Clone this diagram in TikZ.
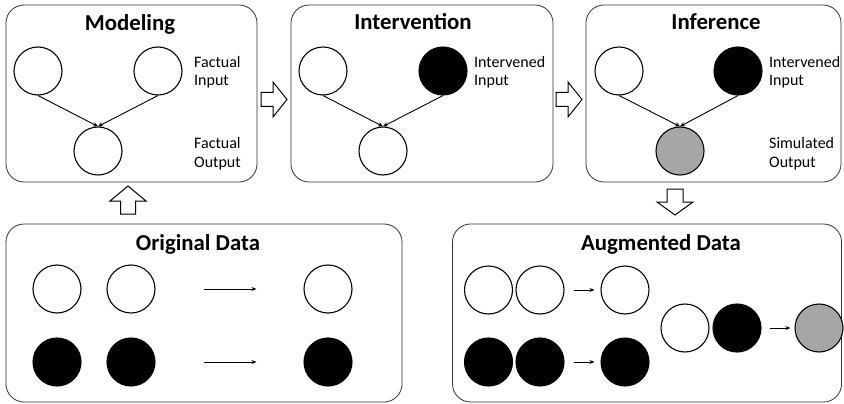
\documentclass[tikz,border=0pt]{standalone}
\usepackage{fontspec}
\setmainfont{Carlito}
\usetikzlibrary{arrows.meta,calc}
\tikzset{
  panel/.style={draw=black!80, line width=0.8pt, rounded corners=18pt, minimum height=177pt, inner sep=0pt},
  dot/.style={circle, draw=black, line width=1.1pt, minimum size=48pt, inner sep=0pt},
  wdot/.style={dot, fill=white},
  bdot/.style={dot, fill=black},
  gdot/.style={dot, fill=black!35},
  title/.style={anchor=base, inner sep=0pt, font=\fontsize{22.8}{26}\selectfont\bfseries},
  lbl/.style={anchor=base west, inner sep=0pt, font=\fontsize{16}{19}\selectfont},
  edge/.style={line width=0.9pt, -{Stealth[length=5pt,width=4.5pt]}},
  flow/.style={line width=0.9pt, -{Stealth[length=5pt,width=4pt]}},
  blockarrow/.style={draw=black, line width=1pt, fill=white, line join=miter},
}
\begin{document}
\begin{tikzpicture}[x=1pt,y=-1pt]
\useasboundingbox (0,0) rectangle (844,404);
% panels
\node[panel, minimum width=251pt] (b1) at (131.5,93.5) {};
\node[panel, minimum width=262pt] (b2) at (422,93.5) {};
\node[panel, minimum width=255pt] (b3) at (713.5,93.5) {};
\node[panel, minimum width=396pt, minimum height=178pt] (b4) at (204,313) {};
\node[panel, minimum width=389pt, minimum height=178pt] (b5) at (647,313) {};
% titles
\node[title] (t1) at (130,31) {Modeling};
\node[title] (t2) at (413,30) {Intervention};
\node[title] (t3) at (716,30) {Inference};
\node[title] (t4) at (198,250) {Original Data};
\node[title] (t5) at (661,250) {Augmented Data};
% Modeling
\node[wdot] (m1) at (38,71) {};
\node[wdot] (m2) at (158,71) {};
\node[wdot] (m3) at (98,151) {};
\draw[edge] (m1.south) -- (m3.north);
\draw[edge] (m2.south) -- (m3.north);
\node[lbl] (l1a) at (194,67) {Factual};
\node[lbl] (l1b) at (194,86) {Input};
\node[lbl] (l1c) at (194,148) {Factual};
\node[lbl] (l1d) at (194,167) {Output};
% Intervention
\node[wdot] (i1) at (323,71) {};
\node[bdot] (i2) at (443,71) {};
\node[wdot] (i3) at (383,151) {};
\draw[edge] (i1.south) -- (i3.north);
\draw[edge] (i2.south) -- (i3.north);
\node[lbl] (l2a) at (474,67) {Intervened};
\node[lbl] (l2b) at (474,86) {Input};
% Inference
\node[wdot] (f1) at (619,71) {};
\node[bdot] (f2) at (738,71) {};
\node[gdot] (f3) at (680,151) {};
\draw[edge] (f1.south) -- (f3.north);
\draw[edge] (f2.south) -- (f3.north);
\node[lbl] (l3a) at (769,67) {Intervened};
\node[lbl] (l3b) at (769,86) {Input};
\node[lbl] (l3c) at (769,148) {Simulated};
\node[lbl] (l3d) at (769,167) {Output};
% Original data
\node[wdot] (o1) at (57,289) {};
\node[wdot] (o2) at (131,289) {};
\node[wdot] (o3) at (328,289) {};
\node[bdot] (o4) at (57,362) {};
\node[bdot] (o5) at (131,362) {};
\node[bdot] (o6) at (328,362) {};
\draw[flow] ($(o2.east)+(48,0)$) -- ($(o3.west)+(-47,0)$);
\draw[flow] ($(o5.east)+(48,0)$) -- ($(o6.west)+(-47,0)$);
% Augmented data
\node[wdot] (a1) at (488.5,290) {};
\node[wdot] (a2) at (540,290) {};
\node[wdot] (a3) at (625,290) {};
\node[bdot] (a4) at (488.5,362) {};
\node[bdot] (a5) at (540,362) {};
\node[bdot] (a6) at (625,362) {};
\node[wdot] (a7) at (685,328) {};
\node[bdot] (a8) at (737,328) {};
\node[gdot] (a9) at (819,328) {};
\draw[flow] ($(a2.east)+(9,0)$) -- ($(a3.west)+(-6,0)$);
\draw[flow] ($(a5.east)+(9,0)$) -- ($(a6.west)+(-6,0)$);
\draw[flow] ($(a8.east)+(8,0)$) -- ($(a9.west)+(-4,0)$);
% block arrows
\draw[blockarrow, shift={(261,99.5)}] (0,-7) -- (12,-7) -- (12,-17.5) -- (26,0) -- (12,17.5) -- (12,7) -- (0,7) -- cycle;
\draw[blockarrow, shift={(556,99.5)}] (0,-7) -- (12,-7) -- (12,-17.5) -- (26,0) -- (12,17.5) -- (12,7) -- (0,7) -- cycle;
\draw[blockarrow, shift={(128,214)}] (-7.5,0) -- (-7.5,-13) -- (-18,-13) -- (0,-28) -- (18,-13) -- (7.5,-13) -- (7.5,0) -- cycle;
\draw[blockarrow, shift={(675,189)}] (-8,0) -- (-8,13) -- (-18,13) -- (0,26) -- (18,13) -- (8,13) -- (8,0) -- cycle;
\end{tikzpicture}
\end{document}
